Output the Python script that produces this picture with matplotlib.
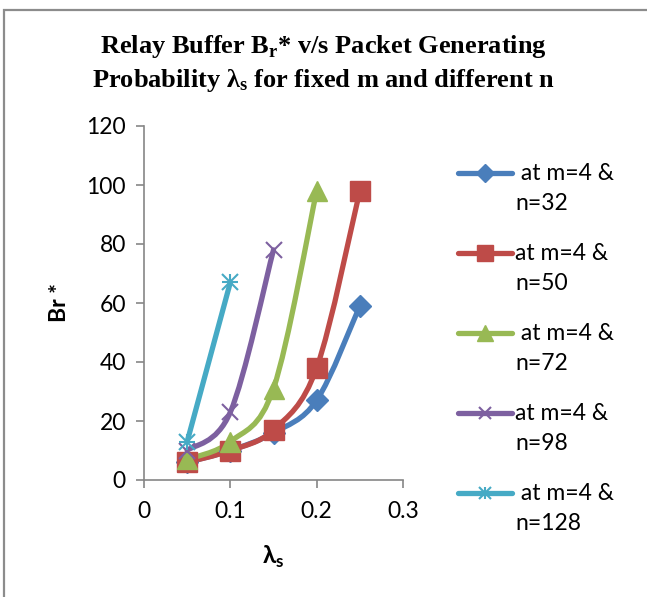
import numpy as np
import matplotlib
matplotlib.use("Agg")
import matplotlib.pyplot as plt
from matplotlib.path import Path
from matplotlib.patches import PathPatch, Rectangle
from matplotlib.lines import Line2D

plt.rcParams["mathtext.fontset"] = "custom"
plt.rcParams["mathtext.bf"] = "Liberation Serif:bold"
plt.rcParams["mathtext.rm"] = "Liberation Serif"
plt.rcParams["mathtext.sf"] = "Lato:bold"

# data
lam_s = [0.05, 0.10, 0.15, 0.20, 0.25]
br_n32 = [6, 10, 16, 27, 59]
br_n50 = [6, 10, 17, 38, 98]
br_n72 = [7, 13, 31, 98]
br_n98 = [10, 23, 78]
br_n128 = [13, 67]
labels = [(" at m=4 &", "n=32"), ("at m=4 &", "n=50"), (" at m=4 &", "n=72"),
          ("at m=4 &", "n=98"), (" at m=4 &", "n=128")]
series = [br_n32, br_n50, br_n72, br_n98, br_n128]
colors = ["#4a7ebb", "#be4b48", "#98b954", "#7d60a0", "#46aac5"]
markers = ["D", "s", "^", "x", "x"]
msizes = [11, 14, 14, 11, 11]

FONT = "Lato"
FS = 16.5


def smooth_path(x, y):
    # Excel-like smoothed line: cubic Bezier segments through the points
    pts = np.column_stack([x, y]).astype(float)
    verts = [pts[0]]
    codes = [Path.MOVETO]
    n = len(pts)
    for i in range(n - 1):
        p0 = pts[i - 1] if i > 0 else pts[i]
        p1, p2 = pts[i], pts[i + 1]
        p3 = pts[i + 2] if i + 2 < n else pts[i + 1]
        c1 = p1 + (p2 - p0) / 6.0
        c2 = p2 - (p3 - p1) / 6.0
        verts += [c1, c2, p2]
        codes += [Path.CURVE4] * 3
    return Path(verts, codes)


W, H = 647, 597
fig = plt.figure(figsize=(W / 100, H / 100), dpi=100)
ax = fig.add_axes([144 / W, 1 - 480 / H, (403 - 144) / W, (480 - 126) / H])

fig.patches.append(Rectangle((4 / W, -0.1), 1.2, 1 - 10 / H + 0.1,
                             transform=fig.transFigure, fill=False,
                             ec="#8c8c8c", lw=1.6))

for ys, c, m, ms in zip(series, colors, markers, msizes):
    xs = lam_s[:len(ys)]
    ax.add_patch(PathPatch(smooth_path(xs, ys), fc="none", ec=c, lw=3.8,
                           capstyle="round", joinstyle="round", zorder=2))
    mew = 1.5 if m == "x" else 1
    ax.plot(xs, ys, ls="none", marker=m, ms=ms, color=c, mec=c, mew=mew, zorder=3)
    if ys is br_n128:
        ax.plot(xs, ys, ls="none", marker="+", ms=ms, color=c, mew=mew, zorder=3)

ax.set_xlim(0, 0.3)
ax.set_ylim(0, 120)
ax.set_xticks([0, 0.1, 0.2, 0.3])
ax.set_xticklabels(["0", "0.1", "0.2", "0.3"])
ax.set_yticks(range(0, 121, 20))
for s in ["top", "right"]:
    ax.spines[s].set_visible(False)
for s in ["left", "bottom"]:
    ax.spines[s].set_color("#868686")
    ax.spines[s].set_linewidth(1.2)
ax.tick_params(direction="out", length=6, width=1.2, color="#868686",
               labelsize=FS, pad=7)
ax.tick_params(axis="x", pad=9)
for t in ax.get_xticklabels() + ax.get_yticklabels():
    t.set_fontfamily(FONT)

ax.set_ylabel("Br *", fontsize=FS, fontweight="bold", family=FONT, labelpad=12)
ax.set_xlabel(r"$\mathsf{\lambda}_\mathsf{s}$", fontsize=FS + 1, labelpad=16)

fig.text(0.5, 1 - 47 / H, r"Relay Buffer B$_\mathbf{r}$* v/s Packet Generating",
         ha="center", va="center", fontsize=19, fontweight="bold",
         family="Liberation Serif")
fig.text(0.5, 1 - 80 / H, r"Probability $\mathbf{\lambda_s}$ for fixed m and different n",
         ha="center", va="center", fontsize=19, fontweight="bold",
         family="Liberation Serif")

# legend drawn by hand: handle aligned with the first label line
for i, ((l1, l2), c, m, ms) in enumerate(zip(labels, colors, markers, msizes)):
    y = 1 - (173 + 80 * i) / H
    fig.add_artist(Line2D([458 / W, 512 / W], [y, y], transform=fig.transFigure,
                          color=c, lw=3.8, solid_capstyle="round"))
    mew = 1.5 if m == "x" else 1
    fig.add_artist(Line2D([485 / W], [y], transform=fig.transFigure, ls="none",
                          marker=m, ms=ms * 0.85, color=c, mec=c, mew=mew))
    if i == 4:
        fig.add_artist(Line2D([485 / W], [y], transform=fig.transFigure, ls="none",
                              marker="+", ms=ms * 0.85, color=c, mew=mew))
    fig.text(515 / W, y, l1, ha="left", va="center", fontsize=FS, family=FONT)
    fig.text(515 / W, y - 31 / H, l2, ha="left", va="center", fontsize=FS, family=FONT)

fig.savefig("out.png", dpi=100)
